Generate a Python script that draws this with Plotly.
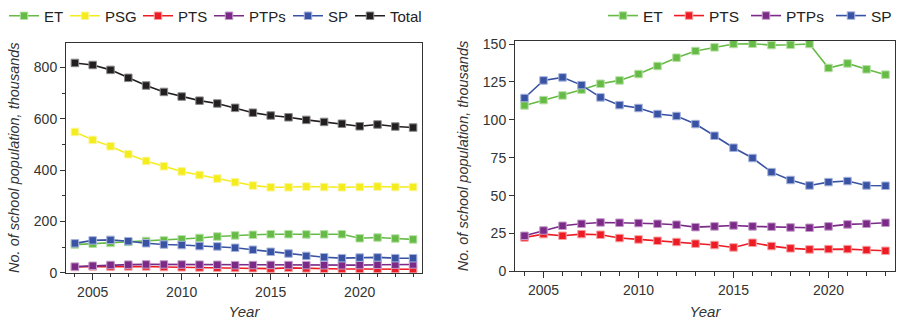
import plotly.graph_objects as go

years = list(range(2004, 2024))

et = [109.5, 113, 116.1, 119.9, 123.8, 126, 130.2, 135.5, 141, 145.4,
      147.8, 150, 150.2, 149.3, 149.5, 150, 134.2, 137.2, 133.3, 129.8]
psg = [549, 518, 493, 462, 436, 415, 395, 381, 367, 353,
       340, 333, 333, 336, 334, 333, 334, 336, 334, 334]
pts = [22.4, 24.6, 23.5, 24.6, 24.2, 22, 21.1, 20.2, 19.4, 18.3,
       17.4, 15.8, 18.9, 16.7, 15.2, 14.5, 14.7, 14.7, 14.1, 13.6]
ptps = [23.5, 27, 30.1, 31.4, 32.3, 32.1, 31.9, 31.4, 30.8, 29.2,
        29.7, 30.3, 29.7, 29.5, 29, 28.8, 29.7, 31, 31.4, 32.1]
sp = [114.4, 126, 128, 122.9, 114.8, 109.7, 107.8, 103.8, 102.5, 97.2,
      89.5, 81.6, 74.8, 65.5, 60.3, 56.7, 58.9, 59.6, 56.7, 56.5]
total = [818, 810, 791, 760, 730, 705, 687, 671, 660, 643,
         624, 613, 606, 596, 588, 581, 571, 578, 570, 566]

colors = {
    "ET": "#66bb46",
    "PSG": "#f4ec1c",
    "PTS": "#ed1c24",
    "PTPs": "#7b2a88",
    "SP": "#3953a4",
    "Total": "#231f20",
}
edge = {
    "ET": "#b7e0a6",
    "PSG": "#faf59a",
    "PTS": "#f6a0a3",
    "PTPs": "#c29bc8",
    "SP": "#a6b3db",
    "Total": "#8a8a8a",
}

left_series = [("ET", et), ("PSG", psg), ("PTS", pts), ("PTPs", ptps), ("SP", sp), ("Total", total)]
right_series = [("ET", et), ("PTS", pts), ("PTPs", ptps), ("SP", sp)]

# legend entry widths (px) so the entries sit as in the reference
left_lw = {"ET": 16, "PSG": 28, "PTS": 26, "PTPs": 34, "SP": 17, "Total": 32}
right_lw = {"ET": 21, "PTS": 32, "PTPs": 40, "SP": 20}

fig = go.Figure()

for name, vals in left_series:
    fig.add_trace(go.Scatter(
        x=years, y=vals, name=name, mode="lines+markers",
        line=dict(color=colors[name], width=1.6),
        marker=dict(symbol="square", size=7.5, color=colors[name],
                    line=dict(color=edge[name], width=1)),
        xaxis="x", yaxis="y", legend="legend", legendwidth=left_lw[name],
    ))

for name, vals in right_series:
    fig.add_trace(go.Scatter(
        x=years, y=vals, name=name, mode="lines+markers",
        line=dict(color=colors[name], width=1.6),
        marker=dict(symbol="square", size=7.5, color=colors[name],
                    line=dict(color=edge[name], width=1)),
        xaxis="x2", yaxis="y2", legend="legend2", legendwidth=right_lw[name],
    ))

W, H = 898, 320
font_family = "Liberation Sans, Arial, sans-serif"
axcol = "#333333"

def xax(domain, anchor):
    return dict(
        domain=domain, anchor=anchor, range=[2003.5, 2023.5],
        tickmode="linear", tick0=2005, dtick=5,
        ticks="outside", ticklen=6, tickwidth=1, tickcolor=axcol,
        minor=dict(dtick=1, ticks="outside", ticklen=3.5, tickwidth=1, tickcolor=axcol),
        showline=True, linecolor=axcol, linewidth=1, mirror=True,
        showgrid=False, zeroline=False,
        tickfont=dict(family=font_family, size=14, color="#333333"),
        title=dict(text="<i>Year</i>", font=dict(family=font_family, size=15, color="#333333"),
                   standoff=10),
    )

def yax(domain, anchor, rng, dtick, minor_dtick=None):
    d = dict(
        domain=domain, anchor=anchor, range=rng,
        tickmode="linear", tick0=0, dtick=dtick,
        ticks="outside", ticklen=5, tickwidth=1, tickcolor=axcol,
        showline=True, linecolor=axcol, linewidth=1, mirror=True,
        showgrid=False, zeroline=False,
        tickfont=dict(family=font_family, size=14, color="#333333"),
        title=dict(text="<i>No. of school population, thousands</i>",
                   font=dict(family=font_family, size=14.5, color="#333333"),
                   standoff=10),
    )
    if minor_dtick:
        d["minor"] = dict(dtick=minor_dtick, ticks="outside", ticklen=3, tickwidth=1, tickcolor=axcol)
    return d

fig.update_layout(
    width=W, height=H,
    margin=dict(l=0, r=0, t=0, b=0, autoexpand=False),
    paper_bgcolor="white", plot_bgcolor="white",
    font=dict(family=font_family, color="#333333"),
    xaxis=xax([66 / W, 422 / W], "y"),
    yaxis=yax([(H - 272.7) / H, (H - 42.7) / H], "x", [0, 897], 200, 100),
    xaxis2=xax([515 / W, 895 / W], "y2"),
    yaxis2=yax([(H - 271.4) / H, (H - 40.7) / H], "x2", [0, 152.2], 25),
    legend=dict(orientation="h", x=4 / W, xanchor="left", y=(H - 16) / H, yanchor="middle",
                font=dict(family=font_family, size=15, color="#222222"),
                bgcolor="rgba(0,0,0,0)", itemwidth=30, tracegroupgap=0),
    legend2=dict(orientation="h", x=1 - 2 / W, xanchor="right", y=(H - 16) / H, yanchor="middle",
                 font=dict(family=font_family, size=15.5, color="#222222"),
                 bgcolor="rgba(0,0,0,0)", itemwidth=30, tracegroupgap=0),
    showlegend=True,
)

fig.write_html("out.html", post_script="document.body.style.margin='0px';",
               config={"displayModeBar": False})
